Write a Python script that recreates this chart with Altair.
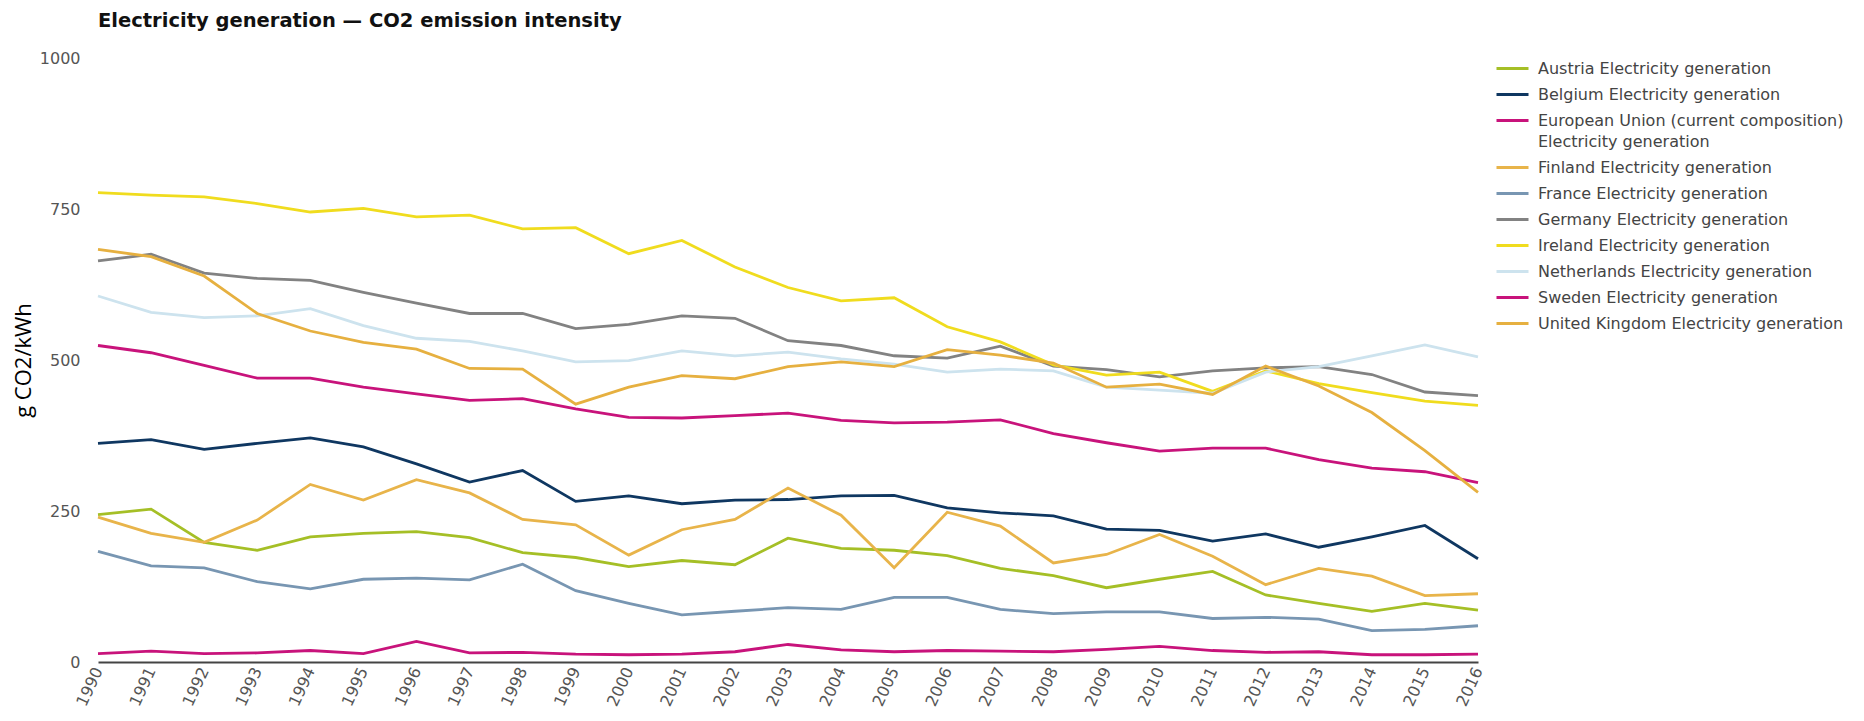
import altair as alt
import pandas as pd

years = list(range(1990, 2017))

series = [
    "Austria Electricity generation",
    "Belgium Electricity generation",
    "European Union (current composition) Electricity generation",
    "Finland Electricity generation",
    "France Electricity generation",
    "Germany Electricity generation",
    "Ireland Electricity generation",
    "Netherlands Electricity generation",
    "Sweden Electricity generation",
    "United Kingdom Electricity generation",
]

colors = [
    "#a5bf26",  # Austria
    "#0f3761",  # Belgium
    "#c8137b",  # EU
    "#e8b44a",  # Finland
    "#7896b2",  # France
    "#828282",  # Germany
    "#f0dc1e",  # Ireland
    "#cde3ee",  # Netherlands
    "#c8137b",  # Sweden
    "#e6b040",  # United Kingdom
]

austria = [244, 253, 198, 185, 207, 213, 216, 206, 181, 173, 158, 168, 161, 205, 188, 185, 176, 155, 143, 123, 137, 150, 111, 97, 84, 97, 86]
belgium = [362, 368, 352, 362, 371, 356, 328, 298, 317, 266, 275, 262, 268, 269, 275, 276, 255, 247, 242, 220, 218, 200, 212, 190, 207, 226, 171]
eu = [524, 512, 491, 470, 470, 455, 444, 433, 436, 419, 405, 404, 408, 412, 400, 396, 397, 401, 378, 363, 349, 354, 354, 335, 321, 315, 297]
finland = [240, 213, 198, 235, 294, 268, 302, 280, 236, 227, 177, 219, 236, 288, 243, 156, 248, 225, 164, 178, 211, 175, 128, 155, 142, 110, 113]
france = [183, 159, 156, 133, 121, 137, 139, 136, 162, 118, 97, 78, 84, 90, 87, 107, 107, 87, 80, 83, 83, 72, 74, 71, 52, 54, 60]
germany = [664, 675, 644, 635, 632, 612, 594, 577, 577, 552, 559, 573, 569, 532, 524, 507, 503, 523, 490, 484, 472, 482, 487, 489, 476, 447, 441]
ireland = [777, 773, 770, 759, 745, 751, 737, 740, 717, 719, 676, 698, 654, 620, 598, 603, 555, 530, 492, 475, 480, 448, 482, 461, 446, 432, 425]
netherlands = [606, 579, 570, 573, 585, 557, 536, 531, 515, 497, 499, 515, 507, 513, 502, 493, 480, 485, 482, 455, 450, 445, 480, 489, 507, 525, 505]
sweden = [14, 18, 14, 15, 19, 14, 34, 15, 16, 13, 12, 13, 17, 29, 20, 17, 19, 18, 17, 21, 26, 19, 16, 17, 12, 12, 13]
uk = [683, 671, 639, 577, 548, 529, 518, 486, 485, 427, 455, 474, 469, 489, 497, 489, 517, 508, 495, 455, 460, 443, 490, 457, 413, 350, 281]

all_values = [austria, belgium, eu, finland, france, germany, ireland, netherlands, sweden, uk]

rows = []
for name, vals in zip(series, all_values):
    for yr, v in zip(years, vals):
        rows.append({"year": yr, "value": v, "series": name})
df = pd.DataFrame(rows)

eu_name = series[2]
label_expr = (
    "datum.label == '" + eu_name + "' ? "
    "['European Union (current composition)', 'Electricity generation'] : datum.label"
)

chart = alt.Chart(df).mark_line(strokeWidth=2.8).encode(
    x=alt.X(
        "year:O",
        scale=alt.Scale(type="point", padding=0),
        axis=alt.Axis(
            title=None,
            labelAngle=-65,
            labelFont="DejaVu Sans",
            labelFontSize=16,
            labelColor="#555555",
            ticks=False,
            domainColor="#444444",
            domainWidth=2,
            labelPadding=6,
            grid=False,
        ),
    ),
    y=alt.Y(
        "value:Q",
        scale=alt.Scale(domain=[0, 1000]),
        axis=alt.Axis(
            title="g CO2/kWh",
            values=[0, 250, 500, 750, 1000],
            format="d",
            labelFont="DejaVu Sans",
            labelFontSize=16,
            labelColor="#555555",
            domain=False,
            ticks=False,
            grid=False,
            labelPadding=18,
            titleFont="Open Sans",
            titleFontSize=22,
            titleFontWeight="normal",
            titleColor="#000000",
            titlePadding=4,
        ),
    ),
    color=alt.Color(
        "series:N",
        scale=alt.Scale(domain=series, range=colors),
        legend=alt.Legend(
            title=None,
            orient="none",
            legendX=1397,
            legendY=-7,
            symbolType="stroke",
            symbolStrokeWidth=3,
            symbolSize=1024,
            labelFont="DejaVu Sans",
            labelFontSize=16,
            labelColor="#444444",
            labelLimit=500,
            rowPadding=0,
            labelOffset=8,
            padding=0,
            labelExpr=label_expr,
        ),
    ),
).properties(
    width=1380,
    height=604,
    title=alt.TitleParams(
        text="Electricity generation \u2014 CO2 emission intensity",
        anchor="start",
        frame="group",
        font="DejaVu Sans",
        fontSize=19.5,
        fontWeight="bold",
        color="#111111",
        offset=19,
    ),
    padding={"left": 4, "top": 2, "right": 0, "bottom": 0},
).configure(
    style={"guide-label": {"lineHeight": 21}}
).configure_view(
    stroke=None
)

chart.save("out.html", embed_options={"renderer": "svg", "actions": False})
